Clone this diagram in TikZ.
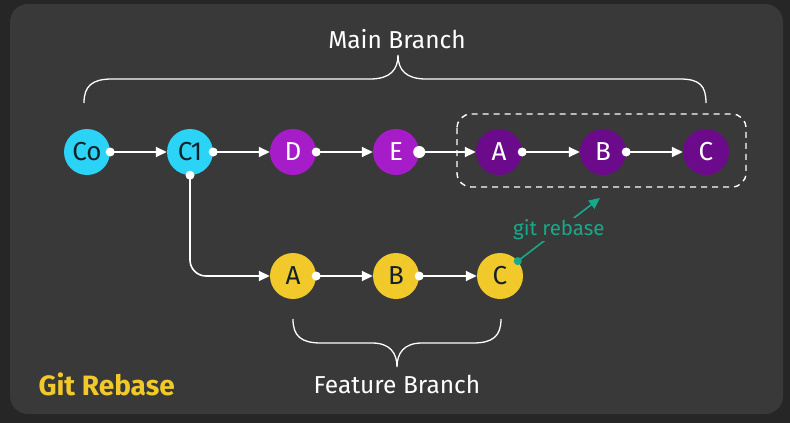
\documentclass[tikz,border=0pt]{standalone}
\usepackage{fontspec}
\setmainfont{Fira Sans}
\usetikzlibrary{arrows.meta}
\definecolor{bgout}{HTML}{262626}
\definecolor{bgin}{HTML}{393939}
\definecolor{cyancommit}{HTML}{2BD3F7}
\definecolor{violetcommit}{HTML}{A51CC8}
\definecolor{plumcommit}{HTML}{6B0A8A}
\definecolor{goldcommit}{HTML}{F1C92A}
\definecolor{rebasegreen}{HTML}{18A98A}
\definecolor{inkdark}{HTML}{14202A}
\begin{document}
\begin{tikzpicture}[x=1pt,y=-1pt,
  commit/.style={circle,minimum size=46pt,inner sep=0pt,font=\fontsize{26}{26}\selectfont},
  basecommit/.style={commit,fill=cyancommit,text=inkdark},
  maincommit/.style={commit,fill=violetcommit,text=white},
  movedcommit/.style={commit,fill=plumcommit,text=white},
  featcommit/.style={commit,fill=goldcommit,text=inkdark},
  edge/.style={white,line width=1.6pt,-{Triangle[length=11pt,width=10pt]}},
  brace/.style={white,line width=1.3pt},
  label/.style={text=white,font=\fontsize{24.5}{24.5}\selectfont}]
\useasboundingbox (0,0) rectangle (790,423);
\fill[bgout] (0,0) rectangle (790,423);
\fill[bgin,rounded corners=18pt] (10,4) rectangle (783,414);

\node[basecommit] (co) at (87,152) {Co};
\node[basecommit] (c1) at (190,152) {C1};
\node[maincommit] (d) at (293,152) {D};
\node[maincommit] (e) at (396,152) {E};
\node[movedcommit] (ma) at (499,152) {A};
\node[movedcommit] (mb) at (603,152) {B};
\node[movedcommit] (mc) at (706,152) {C};
\node[featcommit] (fa) at (293,276) {A};
\node[featcommit] (fb) at (396,276) {B};
\node[featcommit] (fc) at (500,276) {C};

\draw[white,line width=1.4pt,dashed,dash pattern=on 6pt off 5pt,rounded corners=14pt]
  (457,114) rectangle (746,187);

\draw[edge] (co.east) -- (c1.west);
\draw[edge] (c1.east) -- (d.west);
\draw[edge] (d.east) -- (e.west);
\draw[edge] (e.east) -- (ma.west);
\draw[edge] (ma.east) -- (mb.west);
\draw[edge] (mb.east) -- (mc.west);
\draw[edge,rounded corners=16pt] (c1.south) |- (fa.west);
\draw[edge] (fa.east) -- (fb.west);
\draw[edge] (fb.east) -- (fc.west);
\foreach \n in {co,c1,d,ma,mb,fa,fb}
  \fill[white] (\n.east) circle (4.5pt);
\fill[white] (e.east) circle (6pt);
\fill[white] (c1.south) circle (4.5pt);

\coordinate (rebasetip) at (600,198);
\draw[rebasegreen,line width=1.6pt,-{Triangle[length=11pt,width=10pt]}]
  (fc.40) -- node[fill=bgin,inner sep=1pt,text=rebasegreen,font=\fontsize{20.5}{20.5}\selectfont] {git rebase} (rebasetip);
\fill[rebasegreen] (fc.40) circle (4pt);

\draw[brace] (84,103) .. controls (84,86) and (92,79) .. (112,79) -- (370,79)
  .. controls (390,79) and (398,70) .. (398,55)
  .. controls (398,70) and (406,79) .. (426,79) -- (680,79)
  .. controls (700,79) and (706,86) .. (706,103);
\node[label] (mainlbl) at (397,39) {Main Branch};

\draw[brace] (293,319) .. controls (293,336) and (301,343) .. (321,343) -- (372,343)
  .. controls (390,343) and (397,353) .. (397,367)
  .. controls (397,353) and (404,343) .. (422,343) -- (473,343)
  .. controls (493,343) and (501,336) .. (501,319);
\node[label] (featlbl) at (397,384) {Feature Branch};

\node[text=goldcommit,font=\fontsize{28}{28}\selectfont\bfseries,anchor=west] (title) at (35,384) {Git Rebase};
\end{tikzpicture}
\end{document}
